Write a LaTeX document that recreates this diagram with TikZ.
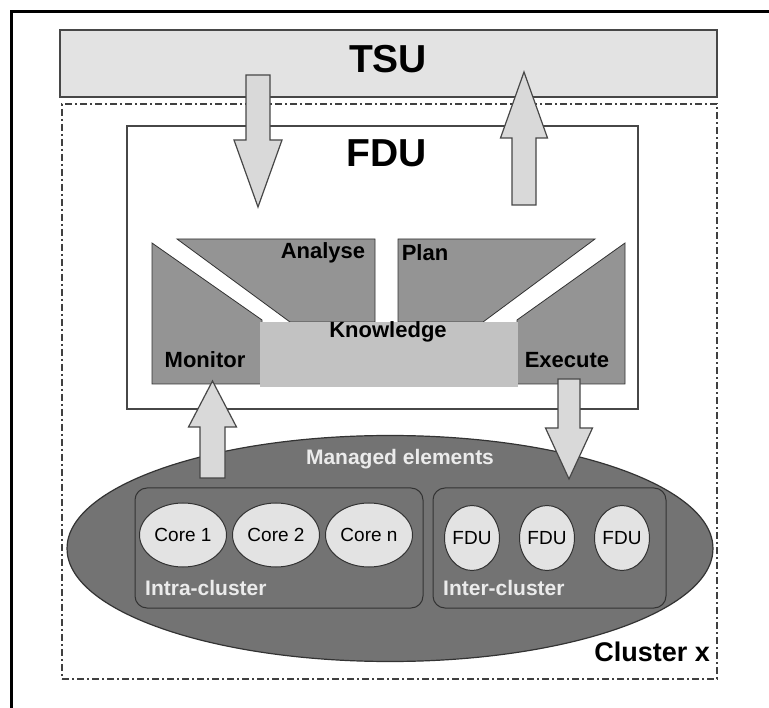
\documentclass[tikz,border=0pt]{standalone}
\usepackage{fontspec}
\setmainfont{Liberation Sans}
\usetikzlibrary{shapes.geometric}
\definecolor{tsufill}{gray}{0.89}
\definecolor{mapefill}{gray}{0.58}
\definecolor{knowfill}{gray}{0.76}
\definecolor{arrfill}{gray}{0.85}
\definecolor{ellfill}{gray}{0.45}
\definecolor{corefill}{gray}{0.89}
\definecolor{edgegray}{gray}{0.28}
\begin{document}
\begin{tikzpicture}[x=1pt,y=-1pt,
  boxnode/.style={rectangle,inner sep=0pt,outer sep=0pt},
  tsubox/.style={boxnode,draw=edgegray,line width=1.8pt,fill=tsufill},
  clusterbox/.style={boxnode,draw=black!75,line width=1.2pt,dash pattern=on 7pt off 3pt on 2pt off 3pt},
  fdubox/.style={boxnode,draw=edgegray,line width=1.3pt,fill=white},
  mape/.style={draw=black!80,line width=0.8pt,fill=mapefill},
  blockarrow/.style={draw=edgegray,line width=1.2pt,fill=arrfill,line join=miter},
  subbox/.style={boxnode,draw=black!80,line width=1pt,fill=ellfill,rounded corners=12pt},
  core/.style={ellipse,draw=black!80,line width=1pt,fill=corefill,inner sep=0pt},
  bigtxt/.style={inner sep=0pt,font=\fontsize{39}{41}\selectfont\bfseries},
  lbl/.style={inner sep=0pt,font=\fontsize{22}{24}\selectfont\bfseries},
  wlbl/.style={inner sep=0pt,text=white!92!black,font=\fontsize{21}{23}\selectfont\bfseries},
  corelbl/.style={font=\fontsize{19}{21}\selectfont}
]
\useasboundingbox (0,0) rectangle (769,708);
% outer frame (cut off at right and bottom)
\draw[line width=3pt] (11,720) -- (11,12) -- (790,12);

% TSU
\node[tsubox,minimum width=657pt,minimum height=67pt] (tsu) at (388.5,63.5) {};
\node[bigtxt] (tsutxt) at (388,59) {TSU};

% cluster dash-dot box
\node[clusterbox,minimum width=655pt,minimum height=575pt] (cluster) at (389.5,391.5) {};

% FDU box
\node[fdubox,minimum width=511pt,minimum height=283pt] (fdu) at (382.5,267.5) {};
\node[bigtxt] (fdutxt) at (387,153) {FDU};

% MAPE shapes
\draw[mape] (152,243) -- (262,320) -- (262,384) -- (152,384) -- cycle;
\draw[mape] (177,239) -- (375,239) -- (375,322) -- (290,322) -- cycle;
\draw[mape] (398,239) -- (595,239) -- (483,322) -- (398,322) -- cycle;
\draw[mape] (625,243) -- (625,384) -- (517,384) -- (517,320) -- cycle;
\node[boxnode,fill=knowfill,minimum width=258pt,minimum height=65pt] (know) at (389,354.5) {};

\node[lbl] (analyse) at (323,253) {Analyse};
\node[lbl] (plan) at (425,253) {Plan};
\node[lbl] (knowledge) at (388,332) {Knowledge};
\node[lbl] (monitor) at (205,360) {Monitor};
\node[lbl] (execute) at (567,360) {Execute};

% managed elements ellipse
\draw[draw=black!80,line width=1.2pt,fill=ellfill] (390,548.5) ellipse [x radius=323pt,y radius=113pt];
\node[wlbl] (managed) at (400,459) {Managed elements};

\node[subbox,minimum width=288pt,minimum height=120pt] (intra) at (279,548) {};
\node[subbox,minimum width=233pt,minimum height=120pt] (inter) at (549.5,548) {};

\node[core,minimum width=87pt,minimum height=64pt] (c1) at (183,535) {};
\node[core,minimum width=87pt,minimum height=64pt] (c2) at (276,535) {};
\node[core,minimum width=87pt,minimum height=64pt] (cn) at (369,535) {};
\node[corelbl] (c1t) at (c1) {Core 1};
\node[corelbl] (c2t) at (c2) {Core 2};
\node[corelbl] (cnt) at (cn) {Core n};

\node[core,minimum width=55pt,minimum height=65pt] (f1) at (472,538) {};
\node[core,minimum width=55pt,minimum height=65pt] (f2) at (547,538) {};
\node[core,minimum width=55pt,minimum height=65pt] (f3) at (622,538) {};
\node[corelbl] (f1t) at (f1) {FDU};
\node[corelbl] (f2t) at (f2) {FDU};
\node[corelbl] (f3t) at (f3) {FDU};

\node[wlbl,anchor=west] (intratxt) at (145,588) {Intra-cluster};
\node[wlbl,anchor=west] (intertxt) at (443,588) {Inter-cluster};

\node[inner sep=0pt,anchor=east,font=\fontsize{27}{29}\selectfont\bfseries] (clx) at (710,652) {Cluster x};

% block arrows
\draw[blockarrow] (246,75) -- (270,75) -- (270,140) -- (282,140) -- (258,207) -- (234,140) -- (246,140) -- cycle;
\draw[blockarrow] (512,205) -- (536,205) -- (536,138) -- (547.5,138) -- (524,72) -- (500.5,138) -- (512,138) -- cycle;
\draw[blockarrow] (200,478) -- (225,478) -- (225,427) -- (236.5,427) -- (212.5,381) -- (188.5,427) -- (200,427) -- cycle;
\draw[blockarrow] (558,379) -- (580,379) -- (580,428) -- (592.5,428) -- (569,479) -- (545.5,428) -- (558,428) -- cycle;
\end{tikzpicture}
\end{document}
